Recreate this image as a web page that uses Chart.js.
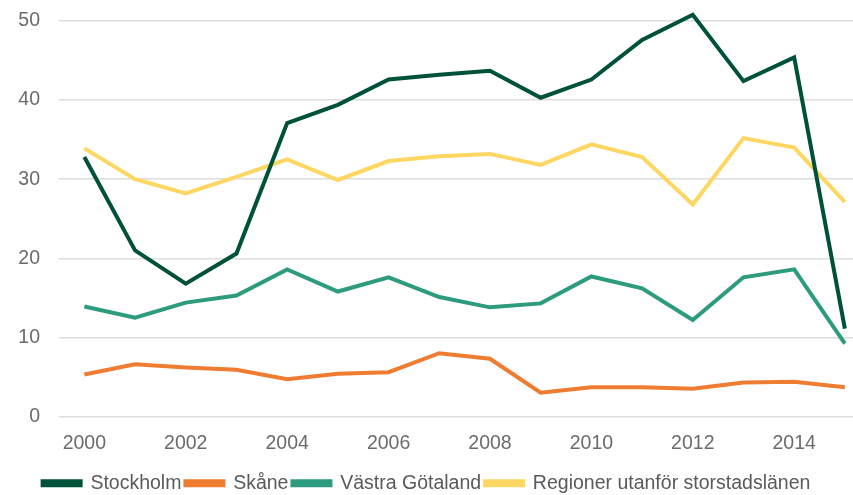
<!DOCTYPE html>
<html lang="sv">
<head>
    <meta charset="UTF-8">
    <title>Regioner</title>
    <script src="https://cdn.jsdelivr.net/npm/chart.js"></script>
    <style>
        html, body { margin: 0; padding: 0; background: #fff; }
        #wrap { width: 853px; height: 495px; }
    </style>
</head>
<body>
<div id="wrap">
    <canvas id="myChart" width="853" height="495"></canvas>
</div>
<script>
    // år och serier
    const years = [2000, 2001, 2002, 2003, 2004, 2005, 2006, 2007, 2008, 2009, 2010, 2011, 2012, 2013, 2014, 2015];
    const xTickLabels = [2000, 2002, 2004, 2006, 2008, 2010, 2012, 2014];
    const yTicks = [0, 10, 20, 30, 40, 50];

    const stockholm = [32.8, 21.0, 16.8, 20.6, 37.1, 39.4, 42.6, 43.2, 43.7, 40.3, 42.6, 47.6, 50.8, 42.4, 45.4, 11.1];
    const skane = [5.3, 6.6, 6.2, 5.9, 4.7, 5.4, 5.6, 8.0, 7.3, 3.0, 3.7, 3.7, 3.5, 4.3, 4.4, 3.7];
    const vastraGotaland = [13.9, 12.5, 14.4, 15.3, 18.6, 15.8, 17.6, 15.1, 13.8, 14.3, 17.7, 16.2, 12.2, 17.6, 18.6, 9.2];
    const ovriga = [33.9, 30.0, 28.2, 30.3, 32.5, 29.9, 32.3, 32.9, 33.2, 31.8, 34.4, 32.8, 26.8, 35.2, 34.0, 27.1];

    const seriesNames = ['Stockholm', 'Skåne', 'Västra Götaland', 'Regioner utanför storstadslänen'];
    const seriesColors = ['#00513a', '#ef7d31', '#2c9b7e', '#fed762'];
    const seriesValues = [stockholm, skane, vastraGotaland, ovriga];

    const font = { family: "'Liberation Sans', Arial, sans-serif", size: 19.5 };

    const datasets = seriesNames.map((name, i) => ({
        label: name,
        data: seriesValues[i].map((v, j) => ({ x: years[j], y: v })),
        borderColor: seriesColors[i],
        backgroundColor: seriesColors[i],
        borderWidth: 4,
        pointRadius: 0,
        tension: 0,
        clip: false
    }));

    // flytta ner legenden lite, närmare nederkanten
    const legendShift = {
        id: 'legendShift',
        afterLayout(chart) {
            chart.legend.top += 8;
            chart.legend.bottom += 8;
        }
    };

    const config = {
        type: 'line',
        data: { datasets: datasets },
        plugins: [legendShift],
        options: {
            responsive: false,
            animation: false,
            layout: { padding: { left: 0, right: 0, top: 21, bottom: 0 } },
            plugins: {
                tooltip: { enabled: false },
                legend: {
                    position: 'bottom',
                    labels: {
                        color: '#5a5a5a',
                        font: font,
                        boxWidth: 38,
                        boxHeight: 4,
                        padding: 4
                    }
                }
            },
            scales: {
                x: {
                    type: 'linear',
                    min: 1999.5,
                    max: 2015.16,
                    grid: { display: false },
                    border: { display: false },
                    afterBuildTicks: (scale) => {
                        scale.ticks = xTickLabels.map(v => ({ value: v }));
                    },
                    afterFit: (scale) => {
                        scale.height = 45;
                    },
                    ticks: {
                        color: '#6b6b6b',
                        font: font,
                        padding: 7,
                        maxRotation: 0,
                        callback: (v) => String(v)
                    }
                },
                y: {
                    min: 0,
                    max: 50,
                    afterBuildTicks: (scale) => {
                        scale.ticks = yTicks.map(v => ({ value: v }));
                    },
                    afterFit: (scale) => {
                        scale.width = 59;
                        scale.paddingTop = 0;
                        scale.paddingBottom = 0;
                    },
                    grid: { color: '#dddddd', lineWidth: 1.5, drawTicks: false },
                    border: { display: false },
                    ticks: {
                        color: '#6b6b6b',
                        font: font,
                        padding: 19
                    }
                }
            }
        }
    };

    const myChart = new Chart(document.getElementById('myChart'), config);
</script>
</body>
</html>
